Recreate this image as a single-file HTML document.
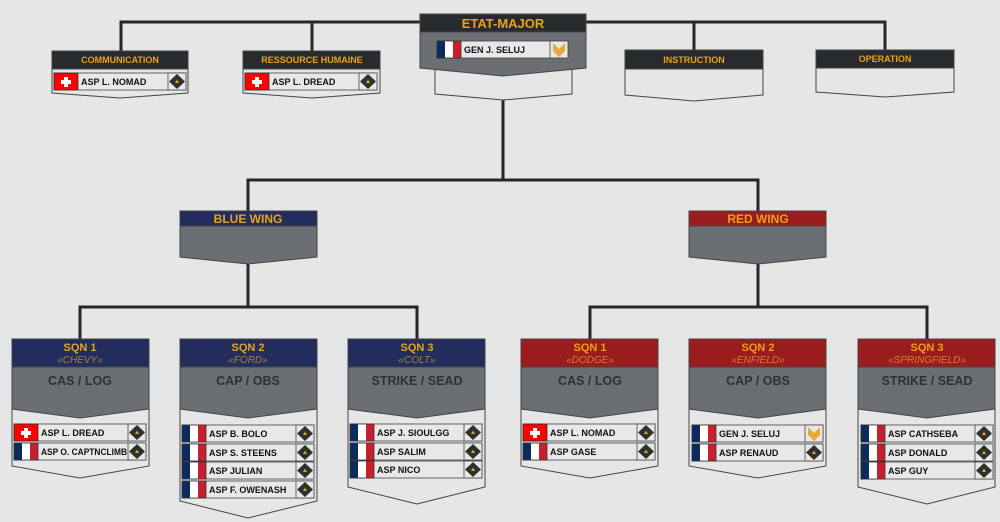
<!DOCTYPE html>
<html><head><meta charset="utf-8"><style>
html,body{margin:0;padding:0;background:#e6e6e6;}
svg{display:block;font-family:"Liberation Sans",sans-serif;}
.h{fill:#e8a317;font-weight:bold;text-anchor:middle;}
.sub{fill:#a8823a;font-style:italic;text-anchor:middle;font-size:10px;}
.g{fill:#2e3134;font-weight:bold;text-anchor:middle;font-size:12.5px;}
.n{fill:#111;font-weight:bold;font-size:9px;}
.ln{stroke:#24272a;stroke-width:3;fill:none;}
.bx{stroke:#444;stroke-width:1;}
</style></head><body>
<svg width="1000" height="522" viewBox="0 0 1000 522" xmlns="http://www.w3.org/2000/svg">
<defs>
<g id="ch"><rect x="0" y="0" width="24" height="17" fill="#f00" stroke="#333" stroke-width="0.8"/><rect x="10" y="4" width="4" height="10" fill="#fff"/><rect x="7" y="7" width="10" height="4" fill="#fff"/></g>
<g id="fr"><rect x="0" y="0" width="8" height="17" fill="#0b2a5e"/><rect x="8" y="0" width="8" height="17" fill="#fff"/><rect x="16" y="0" width="8" height="17" fill="#c8202e"/><rect x="0" y="0" width="24" height="17" fill="none" stroke="#333" stroke-width="0.8"/></g>
<g id="asp"><rect x="0" y="0" width="18" height="17" fill="#e8e8e8" stroke="#444" stroke-width="0.8"/><polygon points="9,1 17,8.5 9,16 1,8.5" fill="#2d2f31"/><polygon points="9,6.5 11,10 7,10" fill="#e8a317"/></g>
<g id="gen"><rect x="0" y="0" width="18" height="17" fill="#e8e8e8" stroke="#444" stroke-width="0.8"/><polygon points="3,2 9,8 15,2 15,10 9,16 3,10" fill="#e8a83a"/></g>
</defs>

<!-- connectors -->
<path class="ln" d="M121 51 V22 H885 V51 M312 22 V51 M694 22 V51"/>
<path class="ln" d="M503 96 V180 M248 211 V180 H758 V211"/>
<path class="ln" d="M248 262 V307 M80 339 V307 H417 V339"/>
<path class="ln" d="M758 262 V307 M590 339 V307 H927 V339"/>

<!-- ETAT-MAJOR -->
<polygon class="bx" points="435,68 572,68 572,94 503,100 435,94" fill="#e6e6e6"/>
<polygon class="bx" points="420,32 586,32 586,68 503,76 420,68" fill="#6b6f73"/>
<rect class="bx" x="420" y="14" width="166" height="18" fill="#282b2d"/>
<text class="h" x="503" y="28" font-size="13">ETAT-MAJOR</text>
<g transform="translate(437,41)"><rect width="131" height="17" fill="#e8e8e8" stroke="#444" stroke-width="0.8"/><use href="#fr"/><text class="n" x="27" y="12">GEN J. SELUJ</text><use href="#gen" x="113"/></g>

<!-- top departments -->
<g>
<polygon class="bx" points="52,68 188,68 188,93 120,98 52,93" fill="#e6e6e6"/>
<rect class="bx" x="52" y="51" width="136" height="18" fill="#282b2d"/>
<text class="h" x="120" y="63" font-size="9">COMMUNICATION</text>
<g transform="translate(54,73)"><rect width="132" height="17" fill="#e8e8e8" stroke="#444" stroke-width="0.8"/><use href="#ch"/><text class="n" x="27" y="12">ASP L. NOMAD</text><use href="#asp" x="114"/></g>
</g>
<g>
<polygon class="bx" points="243,68 380,68 380,93 312,98 243,93" fill="#e6e6e6"/>
<rect class="bx" x="243" y="51" width="137" height="18" fill="#282b2d"/>
<text class="h" x="312" y="63" font-size="9">RESSOURCE HUMAINE</text>
<g transform="translate(245,73)"><rect width="132" height="17" fill="#e8e8e8" stroke="#444" stroke-width="0.8"/><use href="#ch"/><text class="n" x="27" y="12">ASP L. DREAD</text><use href="#asp" x="114"/></g>
</g>
<g>
<polygon class="bx" points="625,69 763,69 763,95 694,101 625,95" fill="#e6e6e6"/>
<rect class="bx" x="625" y="50" width="138" height="19" fill="#282b2d"/>
<text class="h" x="694" y="63" font-size="9">INSTRUCTION</text>
</g>
<g>
<polygon class="bx" points="816,68 954,68 954,92 885,97 816,92" fill="#e6e6e6"/>
<rect class="bx" x="816" y="50" width="138" height="18" fill="#282b2d"/>
<text class="h" x="885" y="62" font-size="9">OPERATION</text>
</g>

<!-- WINGS -->
<polygon class="bx" points="180,226 317,226 317,257 248,264 180,257" fill="#6b6f73"/>
<rect class="bx" x="180" y="211" width="137" height="15" fill="#222d5e"/>
<text class="h" x="248" y="223" font-size="12">BLUE WING</text>
<polygon class="bx" points="689,226 826,226 826,257 758,264 689,257" fill="#6b6f73"/>
<rect class="bx" x="689" y="211" width="137" height="15" fill="#9b1c1f"/>
<text class="h" x="758" y="223" font-size="12">RED WING</text>

<!-- Blue SQN1 -->
<polygon class="bx" points="12,409 149,409 149,466 80,478 12,466" fill="#e6e6e6"/>
<polygon class="bx" points="12,367 149,367 149,409 80,418 12,409" fill="#6b6f73"/>
<rect class="bx" x="12" y="339" width="137" height="28" fill="#222d5e"/>
<text class="h" x="80" y="351" font-size="11">SQN 1</text><text class="sub" x="80" y="363">«CHEVY»</text>
<text class="g" x="80" y="385">CAS / LOG</text>
<g transform="translate(14,424)"><rect width="132" height="17" fill="#e8e8e8" stroke="#444" stroke-width="0.8"/><use href="#ch"/><text class="n" x="27" y="12">ASP L. DREAD</text><use href="#asp" x="114"/></g>
<g transform="translate(14,443)"><rect width="132" height="17" fill="#e8e8e8" stroke="#444" stroke-width="0.8"/><use href="#fr"/><text class="n" x="27" y="12" textLength="86" lengthAdjust="spacingAndGlyphs">ASP O. CAPTNCLIMB</text><use href="#asp" x="114"/></g>

<!-- Blue SQN2 -->
<polygon class="bx" points="180,409 317,409 317,501 248,518 180,501" fill="#e6e6e6"/>
<polygon class="bx" points="180,367 317,367 317,409 248,418 180,409" fill="#6b6f73"/>
<rect class="bx" x="180" y="339" width="137" height="28" fill="#222d5e"/>
<text class="h" x="248" y="351" font-size="11">SQN 2</text><text class="sub" x="248" y="363">«FORD»</text>
<text class="g" x="248" y="385">CAP / OBS</text>
<g transform="translate(182,425)"><rect width="132" height="17" fill="#e8e8e8" stroke="#444" stroke-width="0.8"/><use href="#fr"/><text class="n" x="27" y="12">ASP B. BOLO</text><use href="#asp" x="114"/></g>
<g transform="translate(182,444)"><rect width="132" height="17" fill="#e8e8e8" stroke="#444" stroke-width="0.8"/><use href="#fr"/><text class="n" x="27" y="12">ASP S. STEENS</text><use href="#asp" x="114"/></g>
<g transform="translate(182,462)"><rect width="132" height="17" fill="#e8e8e8" stroke="#444" stroke-width="0.8"/><use href="#fr"/><text class="n" x="27" y="12">ASP JULIAN</text><use href="#asp" x="114"/></g>
<g transform="translate(182,481)"><rect width="132" height="17" fill="#e8e8e8" stroke="#444" stroke-width="0.8"/><use href="#fr"/><text class="n" x="27" y="12">ASP F. OWENASH</text><use href="#asp" x="114"/></g>

<!-- Blue SQN3 -->
<polygon class="bx" points="348,409 485,409 485,487 417,504 348,487" fill="#e6e6e6"/>
<polygon class="bx" points="348,367 485,367 485,409 417,418 348,409" fill="#6b6f73"/>
<rect class="bx" x="348" y="339" width="137" height="28" fill="#222d5e"/>
<text class="h" x="417" y="351" font-size="11">SQN 3</text><text class="sub" x="417" y="363">«COLT»</text>
<text class="g" x="417" y="385">STRIKE / SEAD</text>
<g transform="translate(350,424)"><rect width="132" height="17" fill="#e8e8e8" stroke="#444" stroke-width="0.8"/><use href="#fr"/><text class="n" x="27" y="12">ASP J. SIOULGG</text><use href="#asp" x="114"/></g>
<g transform="translate(350,443)"><rect width="132" height="17" fill="#e8e8e8" stroke="#444" stroke-width="0.8"/><use href="#fr"/><text class="n" x="27" y="12">ASP SALIM</text><use href="#asp" x="114"/></g>
<g transform="translate(350,461)"><rect width="132" height="17" fill="#e8e8e8" stroke="#444" stroke-width="0.8"/><use href="#fr"/><text class="n" x="27" y="12">ASP NICO</text><use href="#asp" x="114"/></g>

<!-- Red SQN1 -->
<polygon class="bx" points="521,409 658,409 658,466 590,478 521,466" fill="#e6e6e6"/>
<polygon class="bx" points="521,367 658,367 658,409 590,418 521,409" fill="#6b6f73"/>
<rect class="bx" x="521" y="339" width="137" height="28" fill="#9b1c1f"/>
<text class="h" x="590" y="351" font-size="11">SQN 1</text><text class="sub" x="590" y="363" style="fill:#d0802a">«DODGE»</text>
<text class="g" x="590" y="385">CAS / LOG</text>
<g transform="translate(523,424)"><rect width="132" height="17" fill="#e8e8e8" stroke="#444" stroke-width="0.8"/><use href="#ch"/><text class="n" x="27" y="12">ASP L. NOMAD</text><use href="#asp" x="114"/></g>
<g transform="translate(523,443)"><rect width="132" height="17" fill="#e8e8e8" stroke="#444" stroke-width="0.8"/><use href="#fr"/><text class="n" x="27" y="12">ASP GASE</text><use href="#asp" x="114"/></g>

<!-- Red SQN2 -->
<polygon class="bx" points="689,409 826,409 826,466 758,478 689,466" fill="#e6e6e6"/>
<polygon class="bx" points="689,367 826,367 826,409 758,418 689,409" fill="#6b6f73"/>
<rect class="bx" x="689" y="339" width="137" height="28" fill="#9b1c1f"/>
<text class="h" x="758" y="351" font-size="11">SQN 2</text><text class="sub" x="758" y="363" style="fill:#d0802a">«ENFIELD»</text>
<text class="g" x="758" y="385">CAP / OBS</text>
<g transform="translate(692,425)"><rect width="131" height="17" fill="#e8e8e8" stroke="#444" stroke-width="0.8"/><use href="#fr"/><text class="n" x="27" y="12">GEN J. SELUJ</text><use href="#gen" x="113"/></g>
<g transform="translate(692,444)"><rect width="131" height="17" fill="#e8e8e8" stroke="#444" stroke-width="0.8"/><use href="#fr"/><text class="n" x="27" y="12">ASP RENAUD</text><use href="#asp" x="113"/></g>

<!-- Red SQN3 -->
<polygon class="bx" points="858,409 995,409 995,487 927,504 858,487" fill="#e6e6e6"/>
<polygon class="bx" points="858,367 995,367 995,409 927,418 858,409" fill="#6b6f73"/>
<rect class="bx" x="858" y="339" width="137" height="28" fill="#9b1c1f"/>
<text class="h" x="927" y="351" font-size="11">SQN 3</text><text class="sub" x="927" y="363" style="fill:#d0802a">«SPRINGFIELD»</text>
<text class="g" x="927" y="385">STRIKE / SEAD</text>
<g transform="translate(861,425)"><rect width="132" height="17" fill="#e8e8e8" stroke="#444" stroke-width="0.8"/><use href="#fr"/><text class="n" x="27" y="12">ASP CATHSEBA</text><use href="#asp" x="114"/></g>
<g transform="translate(861,444)"><rect width="132" height="17" fill="#e8e8e8" stroke="#444" stroke-width="0.8"/><use href="#fr"/><text class="n" x="27" y="12">ASP DONALD</text><use href="#asp" x="114"/></g>
<g transform="translate(861,462)"><rect width="132" height="17" fill="#e8e8e8" stroke="#444" stroke-width="0.8"/><use href="#fr"/><text class="n" x="27" y="12">ASP GUY</text><use href="#asp" x="114"/></g>
</svg>
</body></html>
